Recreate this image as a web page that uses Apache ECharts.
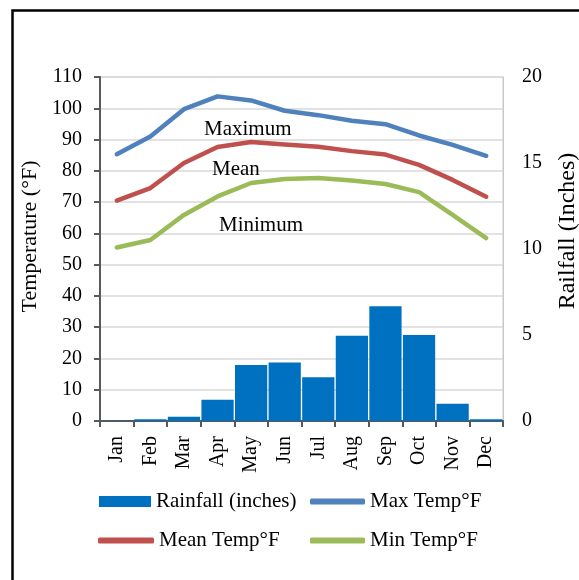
<!DOCTYPE html>
<html>
<head>
<meta charset="utf-8">
<script src="https://cdn.jsdelivr.net/npm/echarts@6/dist/echarts.min.js"></script>
<style>
html,body{margin:0;padding:0;background:#fff;overflow:hidden;}
#c{width:579px;height:580px;}
</style>
</head>
<body>
<div id="c"></div>
<script>
const months = ['Jan','Feb','Mar','Apr','May','Jun','Jul','Aug','Sep','Oct','Nov','Dec'];
const rainfall = [0.02, 0.1, 0.25, 1.24, 3.26, 3.4, 2.54, 4.96, 6.67, 5.0, 1.0, 0.1];
const maxTemp = [85.3, 91.0, 99.7, 103.8, 102.5, 99.2, 97.8, 96.0, 94.9, 91.3, 88.3, 84.8];
const meanTemp = [70.5, 74.5, 82.5, 87.6, 89.2, 88.4, 87.7, 86.3, 85.2, 81.9, 77.1, 71.7];
const minTemp = [55.5, 57.9, 65.9, 71.8, 76.1, 77.4, 77.7, 76.9, 75.8, 73.2, 65.9, 58.5];
const leftTicks = {min: 0, max: 110, interval: 10};
const rightTicks = {min: 0, max: 20, interval: 5};

const FONT = '"Liberation Serif", "Times New Roman", serif';
const TXT = '#000';
const chart = echarts.init(document.getElementById('c'), null, {renderer: 'canvas'});

function legendAt(name, left, top, icon, w, h) {
  return {
    data: [name], left: left, top: top, padding: 0, icon: icon,
    itemWidth: w, itemHeight: h, selectedMode: false,
    textStyle: {fontFamily: FONT, fontSize: 21, color: TXT}
  };
}

chart.setOption({
  animation: false,
  backgroundColor: '#fff',
  textStyle: {fontFamily: FONT},
  grid: {left: 100, right: 76, top: 77, bottom: 159, show: true, borderColor: '#c8c8c8', borderWidth: 1,
         containLabel: false, outerBoundsMode: 'none'},
  legend: [
    legendAt('Rainfall (inches)', 99, 491, 'rect', 52, 11),
    legendAt('Max Temp°F', 310, 491, 'roundRect', 55, 6),
    legendAt('Mean Temp°F', 98, 530, 'roundRect', 56, 6),
    legendAt('Min Temp°F', 310, 530, 'roundRect', 55, 6)
  ],
  xAxis: {
    type: 'category', data: months, boundaryGap: true,
    axisLine: {lineStyle: {color: '#595959', width: 2}},
    axisTick: {show: true, length: 6, lineStyle: {color: '#595959', width: 2}},
    axisLabel: {rotate: 90, margin: 15, fontFamily: FONT, fontSize: 20, color: TXT}
  },
  yAxis: [
    {
      type: 'value', min: leftTicks.min, max: leftTicks.max, interval: leftTicks.interval,
      name: 'Temperature (°F)', nameLocation: 'middle', nameRotate: 90, nameGap: 44,
      nameTextStyle: {fontFamily: FONT, fontSize: 22, color: TXT, padding: [0, 0, 0, 25]},
      axisLine: {show: true, lineStyle: {color: '#595959', width: 2}},
      axisTick: {show: true, length: 6, lineStyle: {color: '#595959', width: 2}},
      axisLabel: {margin: 18, fontFamily: FONT, fontSize: 20, color: TXT},
      splitLine: {show: true, lineStyle: {color: '#d9d9d9', width: 1.5}}
    },
    {
      type: 'value', min: rightTicks.min, max: rightTicks.max, interval: rightTicks.interval,
      position: 'right',
      name: 'Railfall (Inches)', nameLocation: 'middle', nameRotate: 90, nameGap: 53,
      nameTextStyle: {fontFamily: FONT, fontSize: 24, color: TXT, padding: [0, 0, 0, 36]},
      axisLine: {show: true, lineStyle: {color: '#c8c8c8', width: 1}},
      axisTick: {show: false},
      axisLabel: {margin: 19, fontFamily: FONT, fontSize: 20, color: TXT},
      splitLine: {show: false}
    }
  ],
  graphic: [
    {type: 'text', left: 204, top: 119, z: 100, style: {text: 'Maximum', font: '21px ' + FONT, fill: TXT}},
    {type: 'text', left: 212, top: 159, z: 100, style: {text: 'Mean', font: '21px ' + FONT, fill: TXT}},
    {type: 'text', left: 219, top: 215, z: 100, style: {text: 'Minimum', font: '21px ' + FONT, fill: TXT}},
    {type: 'rect', left: 10, top: 8, shape: {x: 0, y: 0, width: 600, height: 600}, style: {fill: 'none', stroke: '#000', lineWidth: 2.5}, silent: true}
  ],
  series: [
    {name: 'Rainfall (inches)', type: 'bar', yAxisIndex: 1, data: rainfall, barCategoryGap: '4%',
     itemStyle: {color: '#0070c0'}, z: 1},
    {name: 'Max Temp°F', type: 'line', yAxisIndex: 0, data: maxTemp, symbol: 'none',
     lineStyle: {color: '#4f81bd', width: 4.5, cap: 'round', join: 'round'}, itemStyle: {color: '#4f81bd'}, z: 3},
    {name: 'Mean Temp°F', type: 'line', yAxisIndex: 0, data: meanTemp, symbol: 'none',
     lineStyle: {color: '#c0504d', width: 4.5, cap: 'round', join: 'round'}, itemStyle: {color: '#c0504d'}, z: 3},
    {name: 'Min Temp°F', type: 'line', yAxisIndex: 0, data: minTemp, symbol: 'none',
     lineStyle: {color: '#9bbb59', width: 4.5, cap: 'round', join: 'round'}, itemStyle: {color: '#9bbb59'}, z: 3}
  ]
});
</script>
</body>
</html>
